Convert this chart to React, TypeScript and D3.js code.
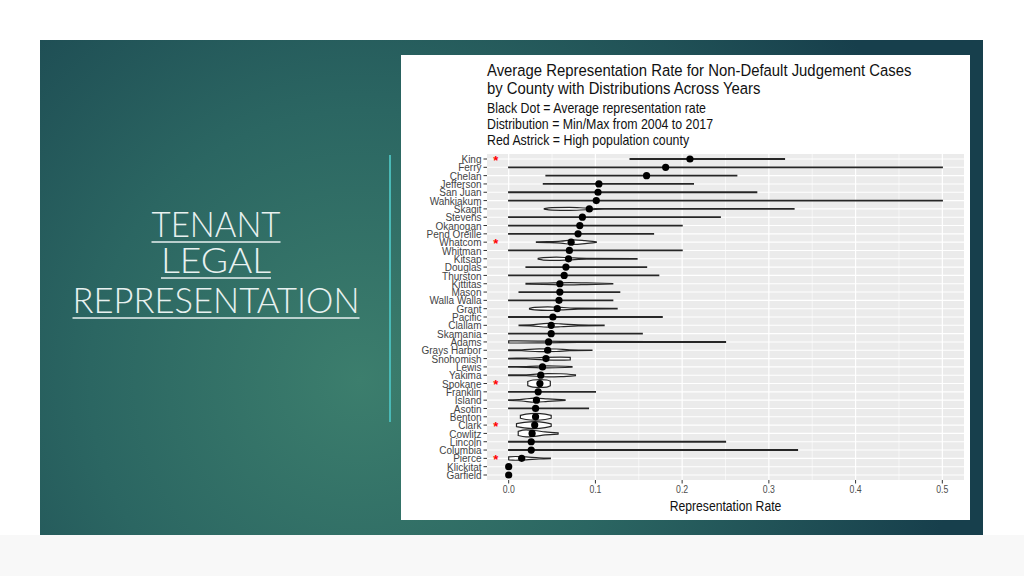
import React from "react";
import * as d3 from "d3";

const counties = [
  "King", "Ferry", "Chelan", "Jefferson", "San Juan", "Wahkiakum", "Skagit", "Stevens",
  "Okanogan", "Pend Oreille", "Whatcom", "Whitman", "Kitsap", "Douglas", "Thurston",
  "Kittitas", "Mason", "Walla Walla", "Grant", "Pacific", "Clallam", "Skamania", "Adams",
  "Grays Harbor", "Snohomish", "Lewis", "Yakima", "Spokane", "Franklin", "Island", "Asotin",
  "Benton", "Clark", "Cowlitz", "Lincoln", "Columbia", "Pierce", "Klickitat", "Garfield",
];
const avgRate = [
  0.209, 0.181, 0.159, 0.104, 0.103, 0.101, 0.093, 0.085, 0.082, 0.080, 0.072, 0.070, 0.069,
  0.066, 0.064, 0.059, 0.059, 0.058, 0.056, 0.051, 0.049, 0.049, 0.046, 0.045, 0.043, 0.039,
  0.037, 0.036, 0.034, 0.032, 0.031, 0.031, 0.030, 0.027, 0.026, 0.026, 0.015, 0, 0,
];
const minRate = [
  0.140, 0, 0.043, 0.040, 0, 0, 0.041, 0, 0, 0, 0.032, 0, 0.034, 0.020, 0, 0.020, 0.012, 0,
  0.024, 0, 0.012, 0, 0, 0, 0, 0, 0, 0.022, 0, 0, 0, 0.0135, 0.009, 0.011, 0, 0, 0, 0, 0,
];
const maxRate = [
  0.318, 0.5, 0.263, 0.213, 0.286, 0.5, 0.329, 0.244, 0.200, 0.167, 0.101, 0.200, 0.148,
  0.159, 0.173, 0.120, 0.128, 0.120, 0.125, 0.177, 0.110, 0.154, 0.250, 0.096, 0.071, 0.073,
  0.077, 0.048, 0.100, 0.065, 0.092, 0.049, 0.049, 0.057, 0.250, 0.333, 0.048, 0, 0,
];
const highPopulation = ["King", "Whatcom", "Spokane", "Clark", "Pierce"];
// relative density (violin half-width) at given rates
const densityProfiles: Record<string, [number, number][]> = {
  Skagit: [[0.041, 0.05], [0.05, 0.3], [0.07, 0.36], [0.09, 0.2], [0.11, 0.08], [0.2, 0.07], [0.329, 0.06]],
  Whatcom: [[0.032, 0.06], [0.045, 0.12], [0.06, 0.25], [0.075, 0.55], [0.088, 0.35], [0.101, 0.06]],
  Kitsap: [[0.034, 0.1], [0.04, 0.3], [0.055, 0.38], [0.07, 0.25], [0.09, 0.1], [0.148, 0.06]],
  Kittitas: [[0.02, 0.08], [0.04, 0.14], [0.07, 0.28], [0.09, 0.2], [0.12, 0.06]],
  Grant: [[0.024, 0.1], [0.03, 0.3], [0.045, 0.42], [0.06, 0.3], [0.08, 0.12], [0.125, 0.06]],
  Clallam: [[0.012, 0.08], [0.025, 0.12], [0.045, 0.45], [0.06, 0.35], [0.08, 0.12], [0.11, 0.06]],
  Adams: [[0, 0.25], [0.01, 0.25], [0.04, 0.2], [0.08, 0.12], [0.25, 0.08]],
  "Grays Harbor": [[0, 0.08], [0.015, 0.12], [0.035, 0.35], [0.055, 0.3], [0.07, 0.12], [0.096, 0.06]],
  Snohomish: [[0, 0.08], [0.02, 0.1], [0.04, 0.3], [0.06, 0.35], [0.071, 0.3]],
  Lewis: [[0, 0.08], [0.02, 0.1], [0.045, 0.25], [0.065, 0.15], [0.073, 0.07]],
  Yakima: [[0, 0.08], [0.02, 0.1], [0.045, 0.4], [0.06, 0.35], [0.077, 0.1]],
  Spokane: [[0.022, 0.5], [0.028, 0.85], [0.036, 0.95], [0.044, 0.85], [0.048, 0.55]],
  Island: [[0, 0.08], [0.015, 0.2], [0.03, 0.5], [0.045, 0.3], [0.065, 0.07]],
  Benton: [[0.0135, 0.35], [0.02, 0.65], [0.031, 0.8], [0.042, 0.65], [0.049, 0.35]],
  Clark: [[0.009, 0.35], [0.018, 0.65], [0.03, 0.85], [0.042, 0.6], [0.049, 0.3]],
  Cowlitz: [[0.011, 0.5], [0.02, 0.85], [0.03, 0.7], [0.042, 0.35], [0.057, 0.15]],
  Pierce: [[0, 0.35], [0.008, 0.45], [0.02, 0.35], [0.035, 0.15], [0.048, 0.08]],
  Lincoln: [[0, 0.1], [0.25, 0.1]],
  Columbia: [[0, 0.1], [0.333, 0.1]],
};
const xTicks = [0, 0.1, 0.2, 0.3, 0.4, 0.5];
const xMinorTicks = [0.05, 0.15, 0.25, 0.35, 0.45];

const titleLines = [
  "Average Representation Rate for Non-Default Judgement Cases",
  "by County with Distributions Across Years",
];
const subtitleLines = [
  "Black Dot = Average representation rate",
  "Distribution = Min/Max from 2004 to 2017",
  "Red Astrick = High population county",
];
const slideTitle = ["TENANT", "LEGAL", "REPRESENTATION"];

const W = 1024;
const H = 576;
const SQ = 0.87; // horizontal squish of the pasted chart image
const FONT = "'Liberation Sans', Arial, Helvetica, sans-serif";

export default function App() {
  const x = d3.scaleLinear().domain([-0.025, 0.525]).range([487, 964]);
  const y = d3.scalePoint<string>().domain(counties).range([159, 475]);
  const step = y.step();
  const panelTop = 159 - step * 0.6;
  const panelBottom = 475 + step * 0.6;
  const halfUnit = step * 0.5;

  const rows = counties.map((c, i) => ({
    county: c,
    avg: avgRate[i],
    min: minRate[i],
    max: maxRate[i],
  }));

  const violinPath = (r: typeof rows[number]) => {
    const yc = y(r.county)!;
    const prof: [number, number][] =
      densityProfiles[r.county] || [[r.min, 0.07], [r.max, 0.07]];
    const area = d3
      .area<[number, number]>()
      .x((d) => x(d[0]))
      .y0((d) => yc - d[1] * halfUnit)
      .y1((d) => yc + d[1] * halfUnit)
      .curve(d3.curveMonotoneX);
    return area(prof) || "";
  };

  const slideTitleWidths = [129, 110, 287];
  const slideBaselines = [237, 273, 313];

  return (
    <svg
      width={W}
      height={H}
      style={{ position: "absolute", left: 0, top: 0 }}
      xmlns="http://www.w3.org/2000/svg"
    >
      <defs>
        <radialGradient id="slideBg" gradientUnits="userSpaceOnUse" cx={360} cy={380} r={600}>
          <stop offset="0" stopColor="#3c7e6d" />
          <stop offset="0.45" stopColor="#2b6662" />
          <stop offset="1" stopColor="#173f4c" />
        </radialGradient>
      </defs>
      <rect x={0} y={0} width={W} height={H} fill="#ffffff" />
      <rect x={0} y={535} width={W} height={41} fill="#f8f8f8" />
      <rect x={40} y={40} width={943} height={495} fill="url(#slideBg)" />

      {/* slide title */}
      {slideTitle.map((t, i) => (
        <g key={t}>
          <text
            x={216}
            y={slideBaselines[i]}
            textAnchor="middle"
            fontFamily="Lato, 'Open Sans', 'DejaVu Sans', sans-serif"
            fontWeight={300}
            fontSize={35}
            fill="#e8f1f0"
            textLength={slideTitleWidths[i]}
            lengthAdjust="spacingAndGlyphs"
          >
            {t}
          </text>
          <line
            x1={216 - slideTitleWidths[i] / 2}
            x2={216 + slideTitleWidths[i] / 2}
            y1={slideBaselines[i] + 5}
            y2={slideBaselines[i] + 5}
            stroke="#e8f1f0"
            strokeWidth={1.5}
          />
        </g>
      ))}
      <line x1={390} x2={390} y1={155} y2={422} stroke="#4ab9b6" strokeWidth={2} />

      {/* chart card */}
      <rect x={401} y={55} width={569} height={465} fill="#ffffff" />

      {titleLines.map((t, i) => (
        <text
          key={t}
          transform={`translate(487,${76 + i * 18}) scale(${SQ},1)`}
          fontFamily={FONT}
          fontSize={17.1}
          fill="#111"
        >
          {t}
        </text>
      ))}
      {subtitleLines.map((t, i) => (
        <text
          key={t}
          transform={`translate(487,${112.5 + i * 16}) scale(${SQ},1)`}
          fontFamily={FONT}
          fontSize={14.2}
          fill="#111"
        >
          {t}
        </text>
      ))}

      {/* panel */}
      <rect
        x={x(-0.025)}
        y={panelTop}
        width={x(0.525) - x(-0.025)}
        height={panelBottom - panelTop}
        fill="#ebebeb"
      />
      {xMinorTicks.map((t) => (
        <line key={"mn" + t} x1={x(t)} x2={x(t)} y1={panelTop} y2={panelBottom} stroke="#ffffff" strokeWidth={0.6} />
      ))}
      {xTicks.map((t) => (
        <line key={"mj" + t} x1={x(t)} x2={x(t)} y1={panelTop} y2={panelBottom} stroke="#ffffff" strokeWidth={1.2} />
      ))}
      {counties.map((c) => (
        <line key={"h" + c} x1={x(-0.025)} x2={x(0.525)} y1={y(c)!} y2={y(c)!} stroke="#ffffff" strokeWidth={1.1} />
      ))}

      {/* violins */}
      {rows
        .filter((r) => r.max > r.min)
        .map((r) => (
          <path key={"v" + r.county} d={violinPath(r)} fill="#ffffff" stroke="#262626" strokeWidth={1.2} />
        ))}
      {/* mean dots */}
      {rows.map((r) => (
        <circle key={"d" + r.county} cx={x(r.avg)} cy={y(r.county)!} r={3.6} fill="#000000" />
      ))}
      {/* high population markers */}
      {highPopulation.map((c) => (
        <text
          key={"s" + c}
          x={x(-0.015)}
          y={y(c)! + 5.5}
          textAnchor="middle"
          fontFamily={FONT}
          fontSize={13}
          fontWeight="bold"
          fill="#ff0000"
        >
          *
        </text>
      ))}

      {/* y axis */}
      {counties.map((c) => (
        <g key={"yl" + c}>
          <line x1={x(-0.025) - 3.5} x2={x(-0.025)} y1={y(c)!} y2={y(c)!} stroke="#333" strokeWidth={1} />
          <text
            transform={`translate(${x(-0.025) - 5.5},${y(c)! + 4.1}) scale(${SQ},1)`}
            textAnchor="end"
            fontFamily={FONT}
            fontSize={11.5}
            fill="#444444"
          >
            {c}
          </text>
        </g>
      ))}

      {/* x axis */}
      {xTicks.map((t) => (
        <g key={"xt" + t}>
          <line x1={x(t)} x2={x(t)} y1={panelBottom} y2={panelBottom + 3.5} stroke="#333" strokeWidth={1} />
          <text
            transform={`translate(${x(t)},${panelBottom + 13}) scale(${SQ},1)`}
            textAnchor="middle"
            fontFamily={FONT}
            fontSize={10}
            fill="#4d4d4d"
          >
            {d3.format(".1f")(t)}
          </text>
        </g>
      ))}
      <text
        transform={`translate(${(x(-0.025) + x(0.525)) / 2},${511}) scale(${SQ},1)`}
        textAnchor="middle"
        fontFamily={FONT}
        fontSize={14}
        fill="#111"
      >
        Representation Rate
      </text>
    </svg>
  );
}
